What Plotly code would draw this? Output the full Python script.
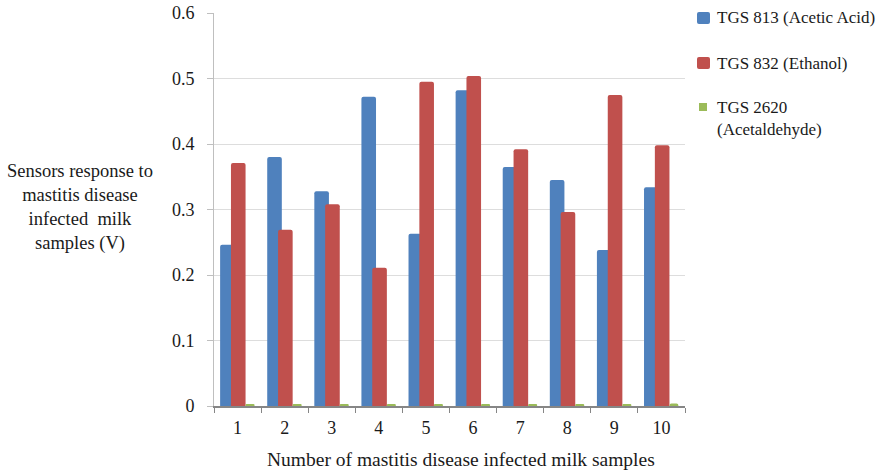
import plotly.graph_objects as go

samples = ["1", "2", "3", "4", "5", "6", "7", "8", "9", "10"]
tgs813 = [0.246, 0.380, 0.328, 0.472, 0.263, 0.482, 0.365, 0.345, 0.238, 0.334]
tgs832 = [0.371, 0.269, 0.308, 0.211, 0.495, 0.504, 0.392, 0.296, 0.475, 0.398]
tgs2620 = [0.003, 0.002, 0.003, 0.002, 0.003, 0.003, 0.003, 0.003, 0.002, 0.004]
y_ticks = [0, 0.1, 0.2, 0.3, 0.4, 0.5, 0.6]
y_tick_labels = ["0", "0.1", "0.2", "0.3", "0.4", "0.5", "0.6"]

names = ["TGS 813 (Acetic Acid)", "TGS 832 (Ethanol)", "TGS 2620<br>(Acetaldehyde)"]
colors = ["#4F81BD", "#C0504D", "#9BBB59"]
offsets = [-0.37, -0.14, 0.17]
widths = [0.31, 0.31, 0.19]

FONT = "Liberation Serif"
W, H = 880, 473
L, R, T, B = 214, 195, 13, 67

fig = go.Figure()
for vals, name, col, off, wd in zip([tgs813, tgs832, tgs2620], names, colors, offsets, widths):
    fig.add_trace(go.Bar(
        x=samples, y=vals, name=name,
        marker=dict(color=col, line=dict(width=0), cornerradius=2),
        offset=off, width=wd, showlegend=False,
    ))

# pixel -> paper helpers for the hand-placed legend and titles
pw, ph = W - L - R, H - T - B
def px(x):
    return (x - L) / pw
def py(y):
    return (H - B - y) / ph

shapes = []
annotations = []
legend_items = [
    (colors[0], 697, 12, 710, 24, 2, "TGS 813 (Acetic Acid)", 18),
    (colors[1], 697, 57, 710, 69, 2, "TGS 832 (Ethanol)", 63),
    (colors[2], 699, 103, 707, 111, 0, "TGS 2620<br>(Acetaldehyde)", 118),
]
for col, x0, y0, x1, y1, rad, txt, ty in legend_items:
    if rad:
        # rounded swatch
        path = (f"M {px(x0 + rad)},{py(y0)} L {px(x1 - rad)},{py(y0)} "
                f"Q {px(x1)},{py(y0)} {px(x1)},{py(y0 + rad)} "
                f"L {px(x1)},{py(y1 - rad)} Q {px(x1)},{py(y1)} {px(x1 - rad)},{py(y1)} "
                f"L {px(x0 + rad)},{py(y1)} Q {px(x0)},{py(y1)} {px(x0)},{py(y1 - rad)} "
                f"L {px(x0)},{py(y0 + rad)} Q {px(x0)},{py(y0)} {px(x0 + rad)},{py(y0)} Z")
        shapes.append(dict(type="path", xref="paper", yref="paper", path=path,
                           fillcolor=col, line=dict(width=0)))
    else:
        shapes.append(dict(type="rect", xref="paper", yref="paper",
                           x0=px(x0), x1=px(x1), y0=py(y1), y1=py(y0),
                           fillcolor=col, line=dict(width=0)))
    annotations.append(dict(xref="paper", yref="paper", x=px(715), y=py(ty),
                            xanchor="left", yanchor="middle", align="left",
                            text=txt, showarrow=False,
                            font=dict(family=FONT, size=17, color="#1a1a1a")))

annotations.append(dict(xref="paper", yref="paper", x=px(80), y=py(207),
                        xanchor="center", yanchor="middle", align="center",
                        text="Sensors response to<br>mastitis disease<br>infected  milk<br>samples (V)",
                        showarrow=False,
                        font=dict(family=FONT, size=18.5, color="#1a1a1a")))

annotations.append(dict(xref="paper", yref="paper", x=px(461), y=py(459),
                        xanchor="center", yanchor="middle",
                        text="Number of mastitis disease infected milk samples",
                        showarrow=False,
                        font=dict(family=FONT, size=19.5, color="#1a1a1a")))

fig.update_layout(
    width=W, height=H,
    margin=dict(l=L, r=R, t=T, b=B),
    paper_bgcolor="white", plot_bgcolor="white",
    barmode="overlay",
    font=dict(family=FONT, size=18, color="#1a1a1a"),
    shapes=shapes, annotations=annotations,
    xaxis=dict(
        type="category", range=[-0.5, 9.5], automargin=False,
        showline=True, linecolor="#868686", linewidth=1.5,
        ticks="outside", tickson="boundaries", ticklen=5, tickcolor="#868686",
        showgrid=False, ticklabelstandoff=5,
        tickfont=dict(family=FONT, size=18),
    ),
    yaxis=dict(
        range=[0, 0.6], tickmode="array", tickvals=y_ticks, ticktext=y_tick_labels,
        automargin=False,
        showline=True, linecolor="#BFBFBF", linewidth=1,
        ticks="outside", ticklen=6, tickcolor="#BFBFBF",
        showgrid=True, gridcolor="#DDDDDD", gridwidth=1,
        zeroline=False, ticklabelstandoff=9,
        tickfont=dict(family=FONT, size=18),
    ),
)

fig.write_html("out.html")
